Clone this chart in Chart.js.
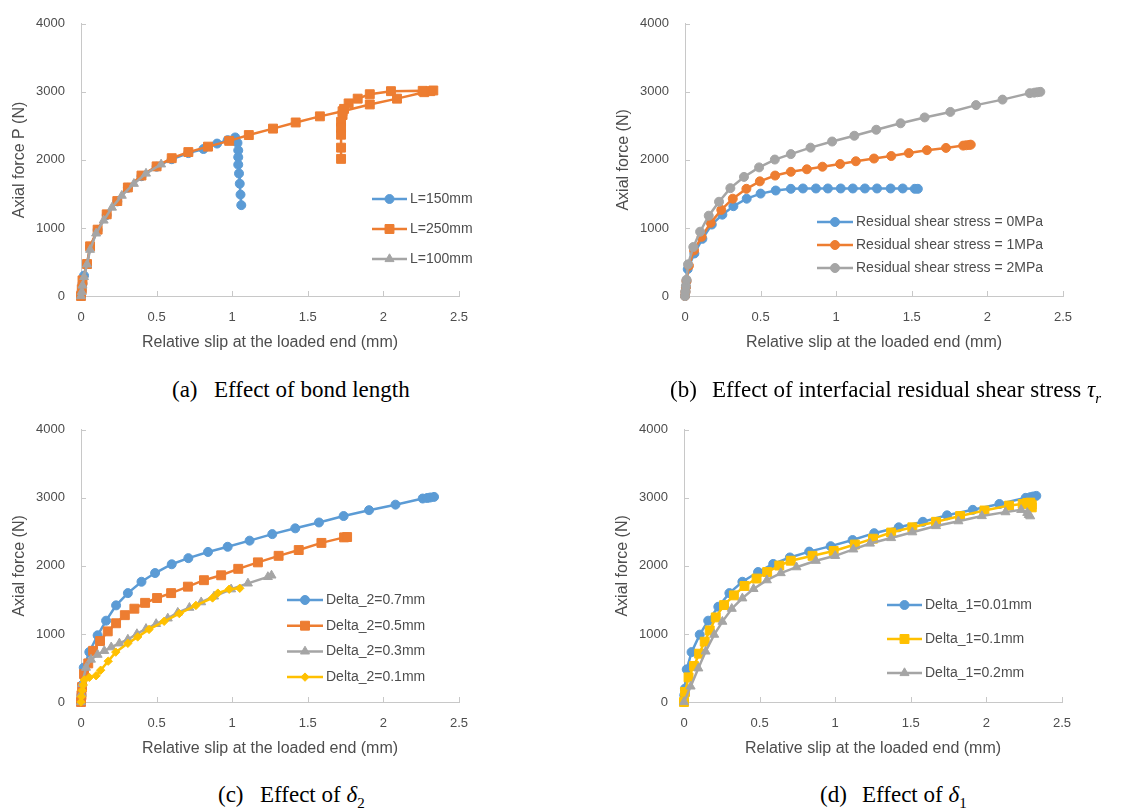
<!DOCTYPE html>
<html>
<head>
<meta charset="utf-8">
<title>Axial force vs relative slip</title>
<script src="https://cdn.jsdelivr.net/npm/chart.js@4.4.0/dist/chart.umd.min.js"></script>
<style>
  body { margin: 0; background: #fff; width: 1134px; height: 812px; position: relative; overflow: hidden; }
  .panel { position: absolute; }
  .caption {
    position: absolute;
    font-family: "Liberation Serif", "Times New Roman", serif;
    font-size: 23px;
    line-height: 28px;
    color: #000;
    white-space: nowrap;
  }
  .caption .tag { display: inline-block; width: 42px; }
  .caption sub { font-size: 15px; }
</style>
</head>
<body>

<div class="panel" style="left:0;top:0"><canvas id="chartA" width="530" height="360"></canvas></div>
<div class="panel" style="left:604px;top:0"><canvas id="chartB" width="530" height="360"></canvas></div>
<div class="panel" style="left:0;top:406px"><canvas id="chartC" width="530" height="360"></canvas></div>
<div class="panel" style="left:603px;top:406px"><canvas id="chartD" width="530" height="360"></canvas></div>

<div class="caption" style="left:172px;top:376px"><span class="tag">(a)</span>Effect of bond length</div>
<div class="caption" style="left:670px;top:376px"><span class="tag">(b)</span>Effect of interfacial residual shear stress <i>τ</i><sub><i>r</i></sub></div>
<div class="caption" style="left:218px;top:781px"><span class="tag">(c)</span>Effect of <i>δ</i><sub>2</sub></div>
<div class="caption" style="left:820px;top:781px"><span class="tag">(d)</span>Effect of <i>δ</i><sub>1</sub></div>

<script>
// ---- Axis ticks ----
const xTicks = [0, 0.5, 1, 1.5, 2, 2.5];
const yTicks = [0, 1000, 2000, 3000, 4000];

// ---- (a) Effect of bond length ----
const aSlip150 = [0, 0.005, 0.01, 0.02, 0.04, 0.06, 0.11, 0.17, 0.24, 0.31, 0.40, 0.50, 0.60, 0.71, 0.81, 0.90, 0.97, 1.02, 1.035, 1.04, 1.04, 1.04, 1.045, 1.05, 1.055, 1.06];
const aForce150 = [0, 80, 180, 300, 470, 720, 970, 1190, 1390, 1590, 1760, 1900, 2010, 2100, 2160, 2240, 2290, 2330, 2250, 2140, 2040, 1930, 1800, 1650, 1490, 1335];

const aSlip250 = [0, 0.005, 0.01, 0.04, 0.06, 0.11, 0.17, 0.24, 0.31, 0.40, 0.50, 0.60, 0.71, 0.84, 0.98, 1.11, 1.27, 1.42, 1.58, 1.73, 1.91, 2.09, 2.27, 2.31, 2.33, 2.26, 2.05, 1.91, 1.83, 1.77, 1.74, 1.73, 1.72, 1.72, 1.72, 1.72, 1.72];
const aForce250 = [0, 100, 230, 470, 730, 975, 1200, 1395, 1595, 1770, 1905, 2025, 2115, 2195, 2280, 2365, 2460, 2550, 2640, 2715, 2815, 2900, 2995, 3010, 3020, 3015, 3010, 2965, 2900, 2830, 2750, 2660, 2560, 2470, 2370, 2180, 2015];

const aSlip100 = [0, 0.005, 0.01, 0.02, 0.04, 0.06, 0.10, 0.15, 0.205, 0.27, 0.35, 0.43, 0.53];
const aForce100 = [0, 60, 155, 280, 465, 680, 920, 1110, 1300, 1475, 1650, 1800, 1935];

// ---- (b) Effect of interfacial residual shear stress ----
const bSlip0 = [0, 0.003, 0.006, 0.01, 0.018, 0.062, 0.115, 0.177, 0.247, 0.32, 0.408, 0.50, 0.60, 0.70, 0.78, 0.866, 0.945, 1.03, 1.11, 1.19, 1.27, 1.36, 1.44, 1.52, 1.54];
const bForce0 = [0, 60, 130, 220, 395, 625, 840, 1050, 1195, 1320, 1430, 1505, 1550, 1575, 1580, 1580, 1580, 1580, 1580, 1580, 1580, 1580, 1580, 1575, 1575];

const bSlip1 = [0, 0.003, 0.006, 0.01, 0.026, 0.06, 0.11, 0.17, 0.24, 0.316, 0.406, 0.495, 0.596, 0.70, 0.806, 0.909, 1.026, 1.13, 1.25, 1.364, 1.48, 1.60, 1.726, 1.84, 1.86, 1.88, 1.89];
const bForce1 = [0, 60, 130, 220, 445, 670, 870, 1075, 1265, 1430, 1575, 1685, 1770, 1825, 1862, 1900, 1940, 1980, 2020, 2057, 2100, 2143, 2176, 2210, 2215, 2220, 2224];

const bSlip2 = [0, 0.003, 0.006, 0.01, 0.02, 0.055, 0.10, 0.157, 0.225, 0.30, 0.39, 0.49, 0.594, 0.70, 0.83, 0.973, 1.12, 1.265, 1.426, 1.585, 1.755, 1.925, 2.10, 2.28, 2.31, 2.33, 2.35];
const bForce2 = [0, 70, 150, 240, 465, 720, 945, 1180, 1385, 1585, 1750, 1890, 2005, 2085, 2180, 2270, 2355, 2443, 2538, 2624, 2705, 2805, 2886, 2981, 2988, 2994, 3000];

// ---- (c) Effect of delta_2 ----
const cSlip07 = [0, 0.003, 0.008, 0.018, 0.055, 0.11, 0.166, 0.232, 0.31, 0.40, 0.49, 0.60, 0.71, 0.84, 0.97, 1.115, 1.265, 1.417, 1.574, 1.737, 1.905, 2.08, 2.26, 2.29, 2.31, 2.335];
const cForce07 = [0, 100, 250, 505, 735, 980, 1195, 1420, 1600, 1767, 1895, 2024, 2114, 2205, 2281, 2371, 2467, 2552, 2638, 2733, 2819, 2900, 2990, 2998, 3005, 3014];

const cSlip05 = [0, 0.003, 0.007, 0.02, 0.048, 0.08, 0.126, 0.177, 0.232, 0.29, 0.353, 0.424, 0.503, 0.596, 0.707, 0.813, 0.927, 1.04, 1.17, 1.307, 1.44, 1.59, 1.74, 1.76];
const cForce05 = [0, 100, 220, 410, 567, 752, 895, 1038, 1157, 1276, 1371, 1457, 1528, 1600, 1695, 1790, 1862, 1957, 2052, 2148, 2233, 2338, 2419, 2424];

const cSlip03 = [0, 0.003, 0.007, 0.033, 0.066, 0.11, 0.154, 0.2, 0.254, 0.31, 0.37, 0.43, 0.497, 0.574, 0.64, 0.717, 0.795, 0.88, 0.993, 1.104, 1.236, 1.26];
const cForce03 = [0, 120, 267, 505, 624, 695, 752, 805, 862, 919, 1000, 1076, 1148, 1229, 1314, 1386, 1467, 1552, 1657, 1743, 1838, 1860];

const cSlip01 = [0, 0.003, 0.008, 0.015, 0.022, 0.055, 0.10, 0.13, 0.18, 0.23, 0.31, 0.375, 0.45, 0.55, 0.65, 0.76, 0.87, 0.905, 0.98, 1.05];
const cForce01 = [0, 80, 170, 250, 324, 362, 386, 467, 600, 733, 862, 957, 1067, 1186, 1300, 1419, 1529, 1600, 1657, 1671];

// ---- (d) Effect of delta_1 ----
const dSlip001 = [0, 0.002, 0.006, 0.018, 0.05, 0.104, 0.16, 0.227, 0.30, 0.386, 0.49, 0.59, 0.70, 0.828, 0.97, 1.115, 1.258, 1.42, 1.58, 1.74, 1.91, 2.086, 2.26, 2.29, 2.31, 2.33];
const dForce001 = [0, 100, 195, 480, 733, 990, 1195, 1400, 1600, 1767, 1910, 2029, 2124, 2210, 2290, 2380, 2481, 2567, 2648, 2743, 2824, 2910, 3000, 3010, 3020, 3029];

const dSlip01 = [0, 0.007, 0.03, 0.066, 0.10, 0.137, 0.17, 0.21, 0.265, 0.33, 0.40, 0.48, 0.55, 0.63, 0.706, 0.85, 0.99, 1.13, 1.25, 1.37, 1.51, 1.667, 1.826, 1.987, 2.15, 2.24, 2.27, 2.29, 2.30, 2.30];
const dForce01 = [0, 148, 362, 529, 710, 886, 1052, 1243, 1424, 1567, 1705, 1814, 1910, 2005, 2076, 2148, 2219, 2314, 2400, 2490, 2567, 2648, 2733, 2814, 2886, 2910, 2925, 2930, 2900, 2860];

const dSlip02 = [0, 0.044, 0.095, 0.143, 0.2, 0.254, 0.316, 0.386, 0.46, 0.548, 0.64, 0.744, 0.872, 1.0, 1.12, 1.23, 1.37, 1.51, 1.667, 1.815, 1.97, 2.126, 2.23, 2.27, 2.28, 2.29];
const dForce02 = [0, 229, 495, 743, 990, 1181, 1371, 1524, 1662, 1790, 1895, 1981, 2076, 2148, 2243, 2329, 2410, 2495, 2586, 2657, 2733, 2790, 2824, 2780, 2750, 2730];

// Excel office palette
const BLUE = '#5B9BD5';
const ORANGE = '#ED7D31';
const GRAY = '#A5A5A5';
const YELLOW = '#FFC000';
const TEXT = '#4D4D4D';
const AXIS = '#C8C8C8';
const FONT = '"Liberation Sans", Arial, sans-serif';

// plot area is fixed so every panel lines up with the figure
const PLOT_LEFT = 81;
const PLOT_RIGHT = 459;
const PLOT_TOP = 16;
const PLOT_BOTTOM = 296;
const CANVAS_W = 530;
const CANVAS_H = 360;

/**
 * Build one line+marker series (Excel style scatter)
 */
function makeSeries(label, xs, ys, color, style, radius, idx) {
    return {
        label: label,
        data: xs.map((x, i) => ({ x: x, y: ys[i] })),
        showLine: true,
        borderColor: color,
        backgroundColor: color,
        borderWidth: 2.5,
        pointStyle: style,
        pointRadius: radius,
        pointHoverRadius: radius,
        pointBorderWidth: 1,
        pointBorderColor: color,
        pointBackgroundColor: color,
        tension: 0,
        clip: false,
        // later series sit on top, as in Excel
        order: 10 - idx
    };
}

// Legend drawn at a fixed spot (the Excel legend overlaps the plot edge)
const excelLegend = {
    id: 'excelLegend',
    afterDraw(chart) {
        const opts = chart.options.plugins.excelLegend;
        if (!opts) return;
        const ctx = chart.ctx;
        ctx.save();
        ctx.font = '14px ' + FONT;
        ctx.textBaseline = 'middle';
        chart.data.datasets.forEach((ds, i) => {
            const y = opts.y + i * opts.dy;
            ctx.strokeStyle = ds.borderColor;
            ctx.lineWidth = 2.5;
            ctx.beginPath();
            ctx.moveTo(opts.x, y);
            ctx.lineTo(opts.x + opts.lineW, y);
            ctx.stroke();
            ctx.fillStyle = ds.pointBackgroundColor;
            ctx.strokeStyle = ds.pointBorderColor;
            ctx.lineWidth = 1;
            Chart.helpers.drawPoint(ctx, {
                pointStyle: ds.pointStyle,
                radius: ds.pointRadius,
                rotation: 0,
                borderWidth: 1
            }, opts.x + opts.lineW / 2, y);
            ctx.fillStyle = TEXT;
            ctx.fillText(ds.label, opts.x + opts.lineW + 3, y);
        });
        ctx.restore();
    }
};

// Excel puts the tick marks on the inside of the axes
const insideTicks = {
    id: 'insideTicks',
    beforeDatasetsDraw(chart) {
        const ctx = chart.ctx;
        const xs = chart.scales.x;
        const ys = chart.scales.y;
        const area = chart.chartArea;
        ctx.save();
        ctx.strokeStyle = AXIS;
        ctx.lineWidth = 1;
        ctx.beginPath();
        xTicks.forEach(v => {
            const px = Math.round(xs.getPixelForValue(v)) + 0.5;
            ctx.moveTo(px, area.bottom);
            ctx.lineTo(px, area.bottom - 5);
        });
        yTicks.forEach(v => {
            const py = Math.round(ys.getPixelForValue(v)) + 0.5;
            ctx.moveTo(area.left, py);
            ctx.lineTo(area.left + 5, py);
        });
        ctx.stroke();
        ctx.restore();
    }
};

function createPanel(canvasId, yTitle, datasets, legendPos) {
    const ctx = document.getElementById(canvasId);
    if (!ctx) return null;

    return new Chart(ctx, {
        type: 'scatter',
        data: { datasets: datasets },
        options: {
            responsive: false,
            animation: false,
            events: [],
            layout: {
                padding: { left: 0, top: PLOT_TOP, right: CANVAS_W - PLOT_RIGHT, bottom: 0 }
            },
            plugins: {
                legend: { display: false },
                tooltip: { enabled: false },
                excelLegend: legendPos
            },
            scales: {
                x: {
                    type: 'linear',
                    min: 0,
                    max: 2.5,
                    afterBuildTicks: scale => {
                        scale.ticks = xTicks.map(v => ({ value: v }));
                    },
                    afterFit: scale => {
                        scale.height = CANVAS_H - PLOT_BOTTOM;
                    },
                    grid: { drawOnChartArea: false, drawTicks: false },
                    border: { color: AXIS, width: 1 },
                    ticks: {
                        color: TEXT,
                        font: { family: FONT, size: 13 },
                        padding: 14,
                        callback: v => String(v)
                    },
                    title: {
                        display: true,
                        text: 'Relative slip at the loaded end (mm)',
                        color: TEXT,
                        font: { family: FONT, size: 16 },
                        padding: { top: 0, bottom: 8 }
                    }
                },
                y: {
                    type: 'linear',
                    min: 0,
                    max: 4000,
                    afterBuildTicks: scale => {
                        scale.ticks = yTicks.map(v => ({ value: v }));
                    },
                    afterFit: scale => {
                        scale.width = PLOT_LEFT;
                    },
                    grid: { drawOnChartArea: false, drawTicks: false },
                    border: { color: AXIS, width: 1 },
                    ticks: {
                        color: TEXT,
                        font: { family: FONT, size: 13 },
                        padding: 16,
                        callback: v => String(v)
                    },
                    title: {
                        display: true,
                        text: yTitle,
                        color: TEXT,
                        font: { family: FONT, size: 16 },
                        padding: { top: 10, bottom: 0 }
                    }
                }
            }
        },
        plugins: [insideTicks, excelLegend]
    });
}

createPanel('chartA', 'Axial force P (N)', [
    makeSeries('L=150mm', aSlip150, aForce150, BLUE, 'circle', 4.5, 0),
    makeSeries('L=250mm', aSlip250, aForce250, ORANGE, 'rect', 6.3, 1),
    makeSeries('L=100mm', aSlip100, aForce100, GRAY, 'triangle', 5.2, 2)
], { x: 372, y: 199, dy: 30, lineW: 35 });

createPanel('chartB', 'Axial force (N)', [
    makeSeries('Residual shear stress = 0MPa', bSlip0, bForce0, BLUE, 'circle', 4.5, 0),
    makeSeries('Residual shear stress = 1MPa', bSlip1, bForce1, ORANGE, 'circle', 4.5, 1),
    makeSeries('Residual shear stress = 2MPa', bSlip2, bForce2, GRAY, 'circle', 4.5, 2)
], { x: 213, y: 222, dy: 23, lineW: 36 });

createPanel('chartC', 'Axial force (N)', [
    makeSeries('Delta_2=0.7mm', cSlip07, cForce07, BLUE, 'circle', 4.5, 0),
    makeSeries('Delta_2=0.5mm', cSlip05, cForce05, ORANGE, 'rect', 6.3, 1),
    makeSeries('Delta_2=0.3mm', cSlip03, cForce03, GRAY, 'triangle', 5.2, 2),
    makeSeries('Delta_2=0.1mm', cSlip01, cForce01, YELLOW, 'rectRot', 4.2, 3)
], { x: 287, y: 194, dy: 25.7, lineW: 36 });

createPanel('chartD', 'Axial force (N)', [
    makeSeries('Delta_1=0.01mm', dSlip001, dForce001, BLUE, 'circle', 4.5, 0),
    makeSeries('Delta_1=0.1mm', dSlip01, dForce01, YELLOW, 'rect', 6.3, 1),
    makeSeries('Delta_1=0.2mm', dSlip02, dForce02, GRAY, 'triangle', 5.2, 2)
], { x: 284, y: 199, dy: 34, lineW: 35 });
</script>
</body>
</html>
